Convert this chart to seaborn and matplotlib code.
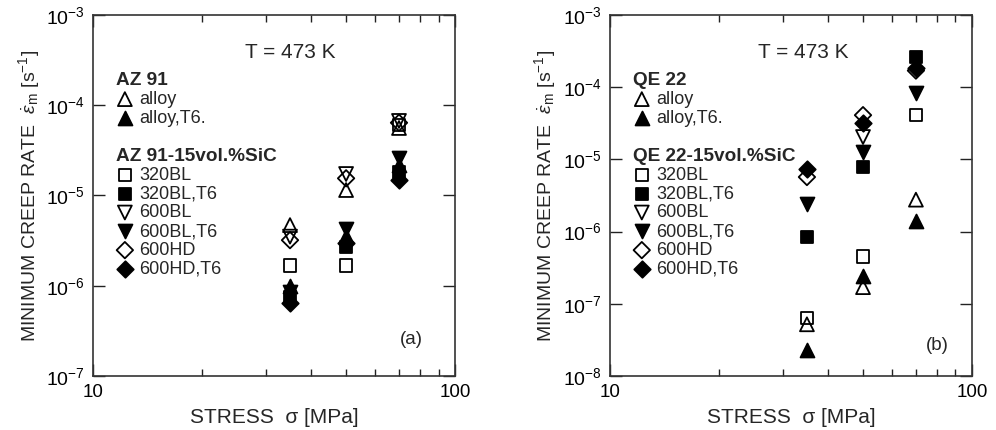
import numpy as np
import pandas as pd
import matplotlib
matplotlib.use("Agg")
import matplotlib.pyplot as plt
import seaborn as sns

# stress levels [MPa]
stress = [35, 50, 70]

series = ["alloy", "alloy,T6.", "320BL", "320BL,T6", "600BL", "600BL,T6", "600HD", "600HD,T6"]

# panel (a): AZ 91, minimum creep rate [1/s] at 35, 50, 70 MPa
az_alloy = [4.7e-6, 1.15e-5, 5.6e-5]
az_alloy_t6 = [1.0e-6, 3.6e-6, 2.2e-5]
az_320bl = [1.67e-6, 1.67e-6, 6.0e-5]
az_320bl_t6 = [7.6e-7, 2.7e-6, 1.8e-5]
az_600bl = [3.5e-6, 1.73e-5, 6.7e-5]
az_600bl_t6 = [8.6e-7, 4.3e-6, 2.6e-5]
az_600hd = [3.2e-6, 1.55e-5, 6.4e-5]
az_600hd_t6 = [6.4e-7, 3.0e-6, 1.5e-5]

# panel (b): QE 22
qe_alloy = [5.2e-8, 1.7e-7, 2.77e-6]
qe_alloy_t6 = [2.3e-8, 2.4e-7, 1.4e-6]
qe_320bl = [6.3e-8, 4.5e-7, 4.1e-5]
qe_320bl_t6 = [8.5e-7, 7.9e-6, 2.6e-4]
qe_600bl = [np.nan, 2.04e-5, np.nan]
qe_600bl_t6 = [2.4e-6, 1.27e-5, 8.3e-5]
qe_600hd = [5.7e-6, 4.1e-5, 1.7e-4]
qe_600hd_t6 = [7.4e-6, 3.2e-5, 1.85e-4]

az_vals = [az_alloy, az_alloy_t6, az_320bl, az_320bl_t6, az_600bl, az_600bl_t6, az_600hd, az_600hd_t6]
qe_vals = [qe_alloy, qe_alloy_t6, qe_320bl, qe_320bl_t6, qe_600bl, qe_600bl_t6, qe_600hd, qe_600hd_t6]

markers = ["^", "^", "s", "s", "v", "v", "D", "D"]
filled = [False, True, False, True, False, True, False, True]
sizes = [100, 100, 80, 80, 100, 100, 70, 70]

sns.set_theme(style="ticks")
plt.rcParams["font.family"] = ["Liberation Sans", "DejaVu Sans"]
plt.rcParams["mathtext.fontset"] = "custom"
plt.rcParams["mathtext.rm"] = "Liberation Sans"
plt.rcParams["mathtext.it"] = "Liberation Sans:italic"
plt.rcParams["mathtext.bf"] = "Liberation Sans:bold"


def draw_panel(ax, vals, name, ylim, tag, tag_pos, tpos):
    rows = []
    for s, v in zip(series, vals):
        for x, y in zip(stress, v):
            rows.append({"series": s, "stress": x, "rate": y})
    df = pd.DataFrame(rows).dropna()

    for s, m, f, sz in zip(series, markers, filled, sizes):
        d = df[df["series"] == s]
        sns.scatterplot(data=d, x="stress", y="rate", marker=m, s=sz,
                        facecolor="black" if f else "none", edgecolor="black",
                        linewidth=1.3, ax=ax, label=s, zorder=3)

    ax.set_xscale("log")
    ax.set_yscale("log")
    ax.set_xlim(10, 100)
    ax.set_ylim(*ylim)
    ax.set_xticks([10, 100])
    ax.set_xticklabels(["10", "100"])
    ax.set_xticks([20, 30, 40, 50, 60, 70, 80, 90], minor=True)
    ax.xaxis.set_minor_formatter(matplotlib.ticker.NullFormatter())
    ax.yaxis.set_minor_locator(matplotlib.ticker.NullLocator())
    ax.tick_params(which="both", direction="in", top=True, right=True,
                   colors="#222222", labelcolor="black", pad=6)
    ax.tick_params(axis="x", labelsize=13.5)
    ax.tick_params(axis="y", labelsize=14)
    ax.tick_params(which="major", length=8.5, width=1.0)
    ax.tick_params(which="minor", length=5, width=1.0)
    for sp in ax.spines.values():
        sp.set_linewidth(1.2)
        sp.set_color("#333333")

    ax.set_xlabel("STRESS  σ [MPa]", fontsize=15, labelpad=5)
    ax.set_ylabel(r"MINIMUM CREEP RATE  $\dot{\varepsilon}_{\rm m}$ [s$^{-1}$]",
                  fontsize=14, labelpad=3)

    ax.text(tpos[0], tpos[1], "T = 473 K", transform=ax.transAxes,
            ha="center", va="center", fontsize=15)
    ax.text(tag_pos[0], tag_pos[1], tag, transform=ax.transAxes,
            ha="center", va="center", fontsize=13.5)

    handles, labels = ax.get_legend_handles_labels()
    leg_kw = dict(loc="upper left", frameon=False, fontsize=13, borderpad=0,
                  borderaxespad=0, handlelength=1.0, handletextpad=0.3,
                  labelspacing=0.1, alignment="left",
                  title_fontproperties={"weight": "bold", "size": 13.7})
    leg1 = ax.legend(handles[:2], labels[:2], title=name,
                     bbox_to_anchor=(0.063, 0.842), **leg_kw)
    ax.add_artist(leg1)
    ax.legend(handles[2:], labels[2:], title=name + "-15vol.%SiC",
              bbox_to_anchor=(0.063, 0.632), **leg_kw)


fig = plt.figure(figsize=(9.96, 4.30), dpi=100)
ax1 = fig.add_axes([0.0934, 0.1256, 0.3635, 0.8395])
ax2 = fig.add_axes([0.6124, 0.1256, 0.3635, 0.8395])

draw_panel(ax1, az_vals, "AZ 91", (1e-7, 1e-3), "(a)", (0.88, 0.10), (0.545, 0.895))
draw_panel(ax2, qe_vals, "QE 22", (1e-8, 1e-3), "(b)", (0.905, 0.085), (0.535, 0.895))

fig.savefig("out.png", dpi=100)
